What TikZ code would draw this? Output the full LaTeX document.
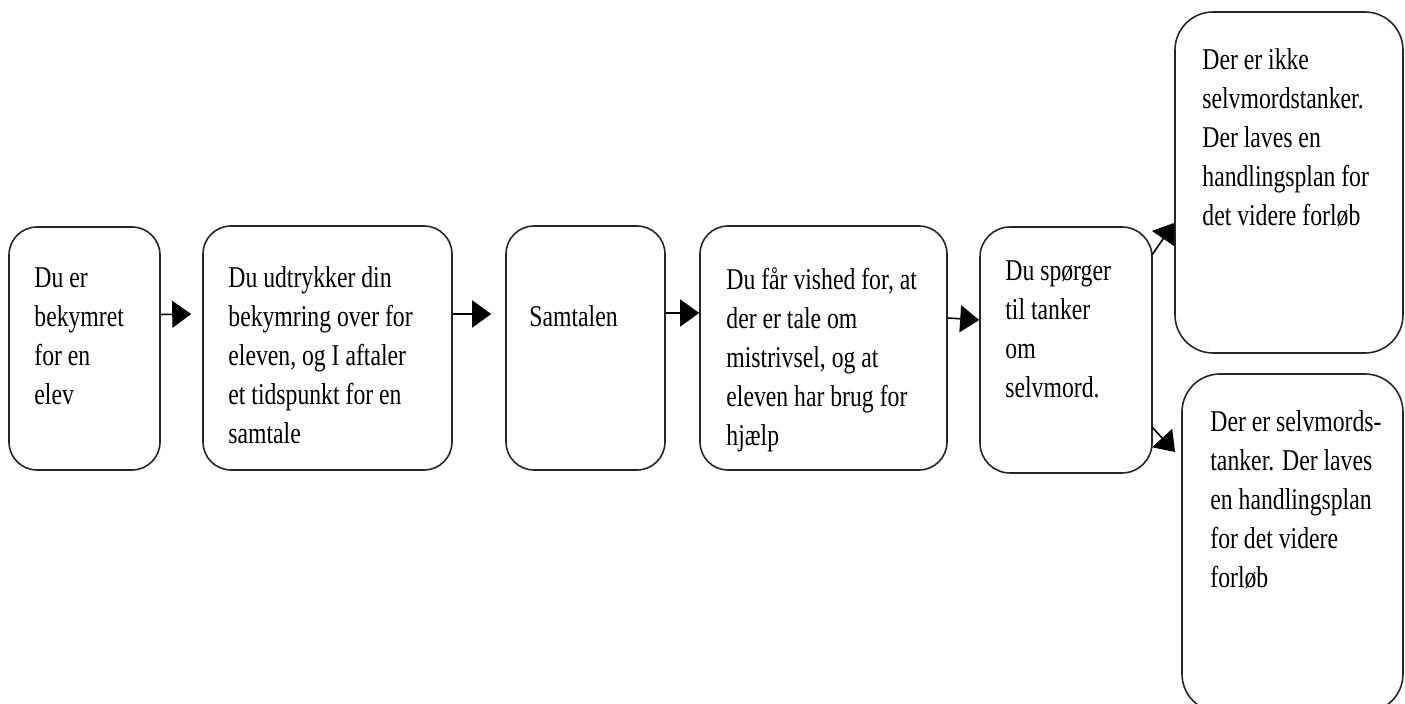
\documentclass[tikz,border=0pt]{standalone}
\usepackage{fontspec}
\setmainfont{Liberation Serif}[FakeStretch=0.785]
\usetikzlibrary{arrows.meta}
\begin{document}
\begin{tikzpicture}[x=0.5pt,y=-0.5pt,
  box/.style={draw=black!85, line width=0.8pt, inner sep=0pt, rounded corners=14pt},
  bigbox/.style={box, rounded corners=19pt},
  txt/.style={inner sep=0pt, anchor=base west, font=\fontsize{15.1}{19.5}\selectfont},
  arr/.style={line width=0.8pt, -{Triangle[length=9.5pt,width=13.5pt]}}]
\useasboundingbox (0,0) rectangle (1405,704);
% boxes
\node[box, minimum width=75.5pt, minimum height=121.5pt] (b1) at (84.5,348.5) {};
\node[box, minimum width=124.5pt, minimum height=122pt] (b2) at (327.5,348) {};
\node[box, minimum width=79.5pt, minimum height=122pt] (b3) at (585.5,348) {};
\node[box, minimum width=123.5pt, minimum height=122pt] (b4) at (823.5,348) {};
\node[box, rounded corners=15pt, minimum width=86pt, minimum height=123pt] (b5) at (1066,350) {};
\node[bigbox, minimum width=114pt, minimum height=170.5pt] (b6) at (1289,182.5) {};
\node[bigbox, minimum width=110.5pt, minimum height=169pt] (b7) at (1292.5,543) {};
% texts
\node[txt] (t1) at (34,288) {\begin{tabular}[t]{@{}l@{}}Du er\\bekymret\\for en\\elev\end{tabular}};
\node[txt] (t2) at (228,288) {\begin{tabular}[t]{@{}l@{}}Du udtrykker din\\bekymring over for\\eleven, og I aftaler\\et tidspunkt for en\\samtale\end{tabular}};
\node[txt] (t3) at (529,327) {Samtalen};
\node[txt] (t4) at (726,290) {\begin{tabular}[t]{@{}l@{}}Du får vished for, at\\der er tale om\\mistrivsel, og at\\eleven har brug for\\hjælp\end{tabular}};
\node[txt] (t5) at (1005,281) {\begin{tabular}[t]{@{}l@{}}Du spørger\\til tanker\\om\\selvmord.\end{tabular}};
\node[txt] (t6) at (1202,70) {\begin{tabular}[t]{@{}l@{}}Der er ikke\\selvmordstanker.\\Der laves en\\handlingsplan for\\det videre forløb\end{tabular}};
\node[txt] (t7) at (1210,432) {\begin{tabular}[t]{@{}l@{}}Der er selvmords-\\tanker. Der laves\\en handlingsplan\\for det videre\\forløb\end{tabular}};
% connectors
\draw[arr] ([yshift=17pt]b1.east) -- ([yshift=17pt,xshift=-5.5pt]b2.west);
\draw[arr] ([yshift=17pt]b2.east) -- ([yshift=17pt,xshift=-7pt]b3.west);
\draw[arr] ([yshift=17.5pt]b3.east) -- ([yshift=17.5pt]b4.west);
\draw[arr] ([yshift=15pt]b4.east) -- ([yshift=15pt]b5.west);
\coordinate (s1) at (1152,255);
\coordinate (e1) at (1174,223);
\coordinate (s2) at (1152,427);
\coordinate (e2) at (1175,452);
\draw[arr] (s1) -- (e1);
\draw[arr] (s2) -- (e2);
\end{tikzpicture}
\end{document}
